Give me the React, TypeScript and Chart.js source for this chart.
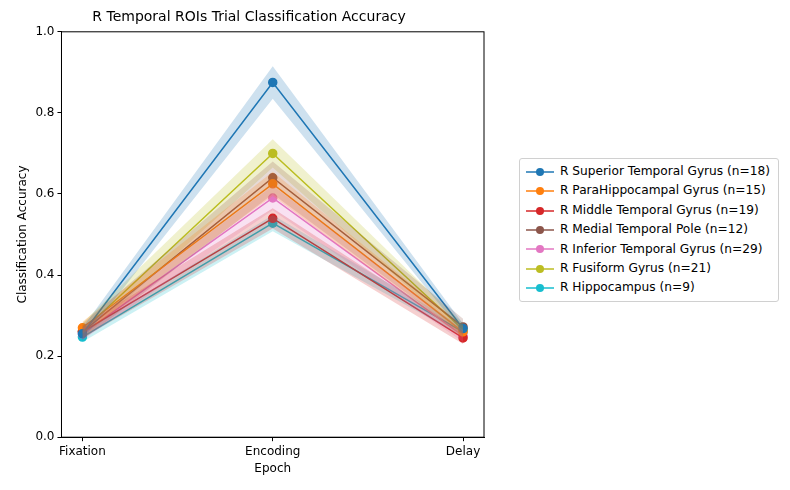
import { useEffect, useRef } from "react"
import { Chart, registerables } from "chart.js"

Chart.register(...registerables)

const epochs = ["Fixation", "Encoding", "Delay"]
const names = [
  "R Superior Temporal Gyrus (n=18)",
  "R ParaHippocampal Gyrus (n=15)",
  "R Middle Temporal Gyrus (n=19)",
  "R Medial Temporal Pole (n=12)",
  "R Inferior Temporal Gyrus (n=29)",
  "R Fusiform Gyrus (n=21)",
  "R Hippocampus (n=9)",
]
const colors = ["#1f77b4", "#ff7f0e", "#d62728", "#8c564b", "#e377c2", "#bcbd22", "#17becf"]
const means = [
  [0.255, 0.875, 0.268],
  [0.27, 0.625, 0.26],
  [0.26, 0.54, 0.245],
  [0.26, 0.64, 0.272],
  [0.255, 0.59, 0.25],
  [0.262, 0.7, 0.265],
  [0.247, 0.528, 0.26],
]
const errs = [
  [0.015, 0.04, 0.012],
  [0.015, 0.03, 0.015],
  [0.015, 0.025, 0.015],
  [0.02, 0.04, 0.02],
  [0.015, 0.03, 0.015],
  [0.02, 0.035, 0.015],
  [0.012, 0.02, 0.012],
]

const font = "'DejaVu Sans', sans-serif"

const boxPlugin = {
  id: "box",
  afterDraw(chart: Chart) {
    const { ctx, chartArea: a } = chart
    ctx.save()
    ctx.strokeStyle = "#000"
    ctx.lineWidth = 1
    ctx.strokeRect(a.left, a.top, a.right - a.left, a.bottom - a.top)
    ctx.restore()
  },
}

export default function App() {
  const ref = useRef<HTMLCanvasElement>(null)

  useEffect(() => {
    if (!ref.current) return
    const datasets: any[] = []
    means.forEach((m, i) => {
      const pts = (f: (v: number, j: number) => number) => m.map((v, j) => ({ x: j, y: f(v, j) }))
      datasets.push({
        data: pts((v, j) => v - errs[i][j]),
        borderWidth: 0,
        pointRadius: 0,
        fill: false,
      })
      datasets.push({
        data: pts((v, j) => v + errs[i][j]),
        borderWidth: 0,
        pointRadius: 0,
        fill: "-1",
        backgroundColor: colors[i] + "38",
      })
    })
    means.forEach((m, i) => {
      datasets.push({
        label: names[i],
        data: m.map((v, j) => ({ x: j, y: v })),
        borderColor: colors[i],
        backgroundColor: colors[i],
        borderWidth: 1.5,
        pointRadius: 4,
        fill: false,
      })
    })

    const chart = new Chart(ref.current, {
      type: "line",
      data: { datasets },
      options: {
        animation: false,
        responsive: false,
        layout: { padding: { left: 14, right: 306, top: 7, bottom: 14 } },
        plugins: {
          legend: { display: false },
          tooltip: { enabled: false },
          title: {
            display: true,
            text: "R Temporal ROIs Trial Classification Accuracy",
            color: "#000",
            font: { family: font, size: 14, weight: "normal" },
            padding: { top: 2, bottom: 6 },
          },
        },
        scales: {
          x: {
            type: "linear",
            min: -0.11,
            max: 2.11,
            afterBuildTicks: (s: any) => {
              s.ticks = [0, 1, 2].map((v) => ({ value: v }))
            },
            ticks: {
              color: "#000",
              font: { family: font, size: 12 },
              callback: (v: any) => epochs[v] ?? "",
              maxRotation: 0,
            },
            grid: { drawOnChartArea: false, color: "#000", tickLength: 4 },
            border: { color: "#000" },
            title: { display: true, text: "Epoch", color: "#000", font: { family: font, size: 12 }, padding: 0 },
          },
          y: {
            min: 0,
            max: 1,
            ticks: {
              stepSize: 0.2,
              color: "#000",
              font: { family: font, size: 12 },
              callback: (v: any) => Number(v).toFixed(1),
            },
            grid: { drawOnChartArea: false, color: "#000", tickLength: 4 },
            border: { color: "#000" },
            title: {
              display: true,
              text: "Classification Accuracy",
              color: "#000",
              font: { family: font, size: 12 },
              padding: 2,
            },
          },
        },
      },
      plugins: [boxPlugin],
    })
    return () => chart.destroy()
  }, [])

  return (
    <div style={{ position: "relative", width: 790, height: 490, margin: -8 }}>
      <canvas ref={ref} width={790} height={490} />
      <div
        style={{
          position: "absolute",
          left: 519,
          top: 158,
          border: "1px solid #d0d0d0",
          borderRadius: 3,
          padding: "3px 8px 3px 6px",
          background: "#fff",
          fontFamily: font,
          fontSize: 12.2,
          lineHeight: "19.4px",
        }}
      >
        {names.map((n, i) => (
          <div key={n} style={{ display: "flex", alignItems: "center", whiteSpace: "nowrap" }}>
            <svg width={28} height={12} style={{ marginRight: 6 }}>
              <line x1={0} y1={6} x2={28} y2={6} stroke={colors[i]} strokeWidth={1.5} />
              <circle cx={14} cy={6} r={4} fill={colors[i]} />
            </svg>
            {n}
          </div>
        ))}
      </div>
    </div>
  )
}
